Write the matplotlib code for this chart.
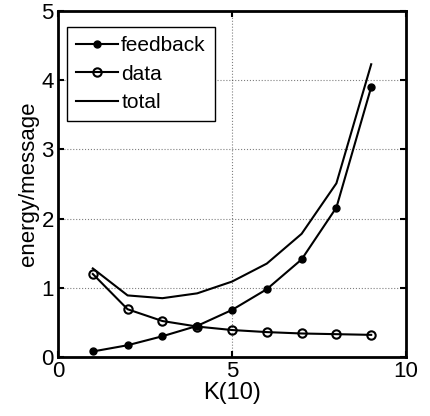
import matplotlib
matplotlib.use("Agg")
import matplotlib.pyplot as plt

plt.rcParams['font.family'] = ['Liberation Sans', 'DejaVu Sans']

k = [1, 2, 3, 4, 5, 6, 7, 8, 9]
feedback = [0.08, 0.17, 0.30, 0.45, 0.68, 0.98, 1.41, 2.16, 3.90]
data = [1.20, 0.69, 0.52, 0.44, 0.39, 0.36, 0.34, 0.33, 0.32]
total = [1.28, 0.89, 0.85, 0.92, 1.09, 1.35, 1.78, 2.51, 4.23]

fig = plt.figure(figsize=(4.31, 4.16), dpi=100)
ax = fig.add_axes([0.1346, 0.1418, 0.8074, 0.8318])

ax.plot(k, feedback, 'k-', marker='o', markersize=5, linewidth=1.5, label='feedback')
ax.plot(k, data, 'k-', marker='o', markersize=6, markerfacecolor='none',
        markeredgewidth=1.5, linewidth=1.5, label='data')
ax.plot(k, total, 'k-', linewidth=1.5, label='total')

ax.set_xlim(0, 10)
ax.set_ylim(0, 5)
ax.set_xticks([0, 5, 10])
ax.set_yticks([0, 1, 2, 3, 4, 5])
ax.grid(True, linestyle=':', color='k', linewidth=0.8, alpha=0.5)
ax.tick_params(direction='in', labelsize=16, length=4, width=1.5, top=True, right=True, pad=3)
for s in ax.spines.values():
    s.set_linewidth(2)

ax.set_xlabel('K(10)', fontsize=17, labelpad=0)
ax.set_ylabel('energy/message', fontsize=16, labelpad=2)

leg = ax.legend(loc='upper left', bbox_to_anchor=(0.026, 0.954), fontsize=15,
                fancybox=False, edgecolor='k', framealpha=1, handlelength=2.0,
                borderaxespad=0, borderpad=0.45, handletextpad=0.15, labelspacing=0.45)
leg.get_frame().set_linewidth(1)

fig.savefig('out.png', dpi=100)
